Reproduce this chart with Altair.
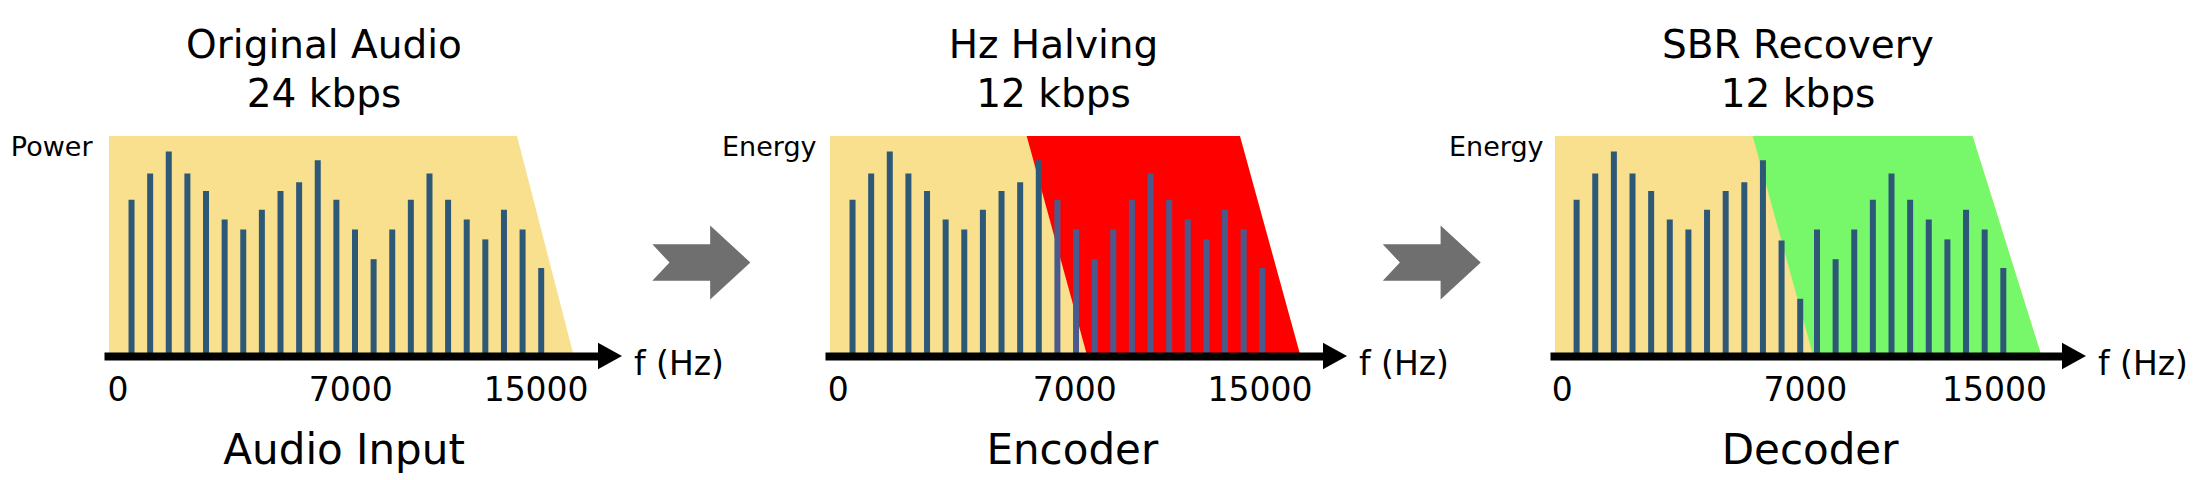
import altair as alt
import pandas as pd

# ---------------- values ----------------
panel_titles = [["Original Audio", "24 kbps"], ["Hz Halving", "12 kbps"], ["SBR Recovery", "12 kbps"]]
y_titles = ["Power", "Energy", "Energy"]
captions = ["Audio Input", "Encoder", "Decoder"]
tick_labels = ["0", "7000", "15000"]
freq_label = "f (Hz)"

# spectral lines: band position (band units) and level (% of full scale)
bands_in = [1, 2, 3, 4, 5, 6, 7, 8, 9, 10, 11, 12, 13, 14, 15, 16, 17, 18, 19, 20, 21, 22, 23]
levels_in = [71, 83, 93, 83, 75, 62, 57.5, 66.5, 75, 79, 89, 71, 57.5, 44, 57.5, 71, 83, 71, 62, 53, 66.5, 57.5, 40]
bands_enc = [1, 2, 3, 4, 5, 6, 7, 8, 9, 10, 11, 12, 13, 14, 15, 16, 17, 18, 19, 20, 21, 22, 23]
levels_enc = [71, 83, 93, 83, 75, 62, 57.5, 66.5, 75, 79, 89, 71, 57.5, 44, 57.5, 71, 83, 71, 62, 53, 66.5, 57.5, 40]
bands_dec = [0.95, 1.95, 2.95, 3.95, 4.95, 5.95, 6.95, 7.95, 8.95, 9.95, 10.95, 11.95, 12.95,
             13.85, 14.85, 15.85, 16.85, 17.85, 18.85, 19.85, 20.85, 21.85, 22.85, 23.85]
levels_dec = [71, 83, 93, 83, 75, 62, 57.5, 66.5, 75, 79, 89, 52.5, 26,
              57.5, 44, 57.5, 71, 83, 71, 62, 53, 66.5, 57.5, 40]

# where the frequency labels sit (band units), per panel
tick_pos = [[0.25, 12.75, 22.7], [0.2, 12.9, 22.85], [0.15, 13.2, 23.35]]

# pass band (yellow) right edge at full level / at zero level
pass_top = [21.7, 21.8, 22.2]
pass_bottom = [24.75, 25.05, 25.9]
# high band (removed / recovered) left edge at full level / at zero level
high_top_left = [None, 10.35, 10.4]
high_bottom_left = [None, 13.6, 13.65]

# band range shown on each axis
band_start = -0.21
band_end = [26.05, 26.26, 27.0]

# flow arrows between stages (band units, level)
flow_x = [31.6, 32.1]
flow_level = 42.5

# ---------------- styling ----------------
FONT = "DejaVu Sans"
YELLOW = "#F8E08E"
RED = "#FF0000"
GREEN = "#77F86B"
BAR = "#2E5878"
BAR_ON_RED = "#4B5A8C"
GREY = "#6F6F6F"
WIDTHS = [499, 503, 517]
HEIGHT = 220
TITLE_DX = [-29.5, -23, -10.5]
YTITLE_X = [-12, -9, -7]
CAPTION_X = [239.6, 246.8, 259.6]

ARROW_HEAD = "M0,-1.1L2,0L0,1.1Z"
CHEVRON = "M-1,-0.37L0.18,-0.37L0.18,-0.755L1,0L0.18,0.755L0.18,0.37L-1,0.37L-0.65,0Z"


def label_expr(i):
    labs = ",".join("'%s'" % t for t in tick_labels)
    pos = ",".join(str(p) for p in tick_pos[i])
    return "[%s][indexof([%s], datum.value)]" % (labs, pos)


def panel(i, bands, levels, high_color=None, flow=True):
    xs = alt.Scale(domain=[band_start, band_end[i]], nice=False, zero=False)
    ys = alt.Scale(domain=[0, 100], nice=False)

    xaxis = alt.Axis(
        values=tick_pos[i], labelExpr=label_expr(i),
        domain=True, domainColor="black", domainWidth=8,
        ticks=False, tickSize=0, grid=False,
        labelFont=FONT, labelFontSize=33, labelColor="black",
        labelPadding=44.5, labelBaseline="alphabetic",
        labelFlush=False, labelOverlap=False,
        title=captions[i], titleFont=FONT, titleFontSize=42, titleFontWeight="normal",
        titleColor="black", titleX=CAPTION_X[i], titleY=107,
        titleBaseline="alphabetic", titleAlign="center", zindex=1,
    )
    yaxis = alt.Axis(
        title=y_titles[i], labels=False, ticks=False, domain=False, grid=False,
        titleAngle=0, titleAlign="right", titleBaseline="alphabetic",
        titleX=YTITLE_X[i], titleY=19, titleFont=FONT, titleFontSize=27,
        titleFontWeight="normal", titleColor="black",
    )

    def X(field):
        return alt.X(field, scale=xs, axis=xaxis)

    def Y(field):
        return alt.Y(field, scale=ys, axis=yaxis)

    pass_df = pd.DataFrame({"level": [0, 100],
                            "edge": [pass_bottom[i], pass_top[i]],
                            "start": [band_start, band_start]})
    layers = [
        alt.Chart(pass_df).mark_area(orient="horizontal", color=YELLOW).encode(
            x=X("edge:Q"), x2="start:Q", y=Y("level:Q"),
        )
    ]
    if high_color is not None:
        high_df = pd.DataFrame({"level": [0, 100],
                                "edge": [pass_bottom[i], pass_top[i]],
                                "left": [high_bottom_left[i], high_top_left[i]]})
        layers.append(
            alt.Chart(high_df).mark_area(orient="horizontal", color=high_color).encode(
                x=X("edge:Q"), x2="left:Q", y=Y("level:Q"),
            )
        )

    bar_df = pd.DataFrame({"band": bands, "level": levels})
    if high_color == RED:
        bar_color = alt.condition("datum.band >= 12", alt.value(BAR_ON_RED), alt.value(BAR))
    else:
        bar_color = alt.value(BAR)
    layers.append(
        alt.Chart(bar_df).mark_bar(size=6).encode(
            x=X("band:Q"), y=Y("level:Q"), color=bar_color,
        )
    )

    end_df = pd.DataFrame({"band": [band_end[i]], "level": [0], "label": [freq_label]})
    layers.append(
        alt.Chart(end_df).mark_point(shape=ARROW_HEAD, size=576, filled=True,
                                     color="black", opacity=1, strokeWidth=0).encode(
            x=X("band:Q"), y=Y("level:Q"),
        )
    )
    layers.append(
        alt.Chart(end_df).mark_text(align="left", baseline="alphabetic", dx=36, dy=19,
                                    font=FONT, fontSize=33, color="black").encode(
            x=X("band:Q"), y=Y("level:Q"), text="label:N",
        )
    )
    if flow:
        flow_df = pd.DataFrame({"band": [flow_x[i]], "level": [flow_level]})
        layers.append(
            alt.Chart(flow_df).mark_point(shape=CHEVRON, size=9604, filled=True,
                                          color=GREY, opacity=1, strokeWidth=0).encode(
                x=X("band:Q"), y=Y("level:Q"),
            )
        )

    return alt.layer(*layers).properties(
        width=WIDTHS[i], height=HEIGHT,
        title=alt.Title(panel_titles[i], font=FONT, fontSize=39, fontWeight="normal",
                        color="black", anchor="middle", frame="group",
                        dx=TITLE_DX[i], offset=18, lineHeight=49),
    )


chart = alt.hconcat(
    panel(0, bands_in, levels_in),
    panel(1, bands_enc, levels_enc, high_color=RED),
    panel(2, bands_dec, levels_dec, high_color=GREEN, flow=False),
    spacing=222, bounds="flush",
).properties(
    padding={"left": 2, "top": 19, "right": 0, "bottom": 4},
    background="white",
).configure_view(stroke=None)

chart.save("out.html", embed_options={"renderer": "svg", "actions": False})
